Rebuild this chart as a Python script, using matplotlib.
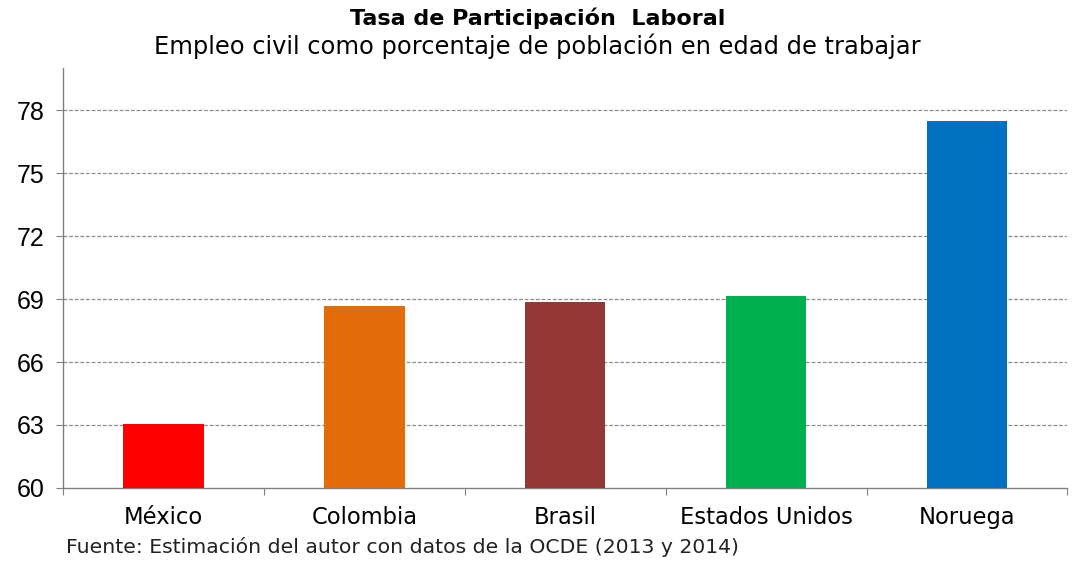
import matplotlib
matplotlib.use("Agg")
import matplotlib.pyplot as plt
from matplotlib.ticker import FixedLocator, NullFormatter

paises = ["México", "Colombia", "Brasil", "Estados Unidos", "Noruega"]
tasas = [63.05, 68.65, 68.85, 69.15, 77.5]
colores = ["#FF0000", "#E36C09", "#953735", "#00B050", "#0070C0"]
yticks = [60, 63, 66, 69, 72, 75, 78]

fig = plt.figure(figsize=(10.75, 5.65), dpi=100)
ax = fig.add_axes([0.0586, 0.1363, 0.9344, 0.7433])

x = list(range(len(paises)))
ax.bar(x, tasas, width=0.40, color=colores, zorder=3)

ax.set_xlim(-0.5, len(paises) - 0.5)
ax.set_ylim(60, 80)
ax.set_yticks(yticks)
ax.set_yticklabels([str(v) for v in yticks], family="Liberation Sans", fontsize=18)
for v in yticks[1:]:
    ax.axhline(v, color="#8c8c8c", lw=0.9, ls=(0, (3, 1.5)), zorder=1)

# category labels centred, tick marks at category boundaries
ax.xaxis.set_major_locator(FixedLocator([i - 0.5 for i in range(len(paises) + 1)]))
ax.xaxis.set_major_formatter(NullFormatter())
ax.xaxis.set_minor_locator(FixedLocator(x))
ax.set_xticklabels(paises, minor=True, family="DejaVu Sans", fontsize=16.3)
ax.tick_params(axis="x", which="minor", length=0, pad=13)
ax.tick_params(axis="x", which="major", length=5, color="#808080", direction="out")
ax.tick_params(axis="y", length=5, color="#808080", direction="out", pad=8.5)

for s in ("top", "right"):
    ax.spines[s].set_visible(False)
for s in ("left", "bottom"):
    ax.spines[s].set_color("#808080")
    ax.spines[s].set_linewidth(1.0)

fig.text(0.5, 0.968, "Tasa de Participación  Laboral", ha="center", va="center",
         family="DejaVu Sans", fontweight="bold", fontsize=16)
fig.text(0.5, 0.918, "Empleo civil como porcentaje de población en edad de trabajar",
         ha="center", va="center", family="DejaVu Sans", fontsize=17.4)
fig.text(0.061, 0.032, "Fuente: Estimación del autor con datos de la OCDE (2013 y 2014)",
         ha="left", va="center", family="DejaVu Sans", fontsize=14.7, color="#222222")

fig.savefig("out.png", dpi=100)
